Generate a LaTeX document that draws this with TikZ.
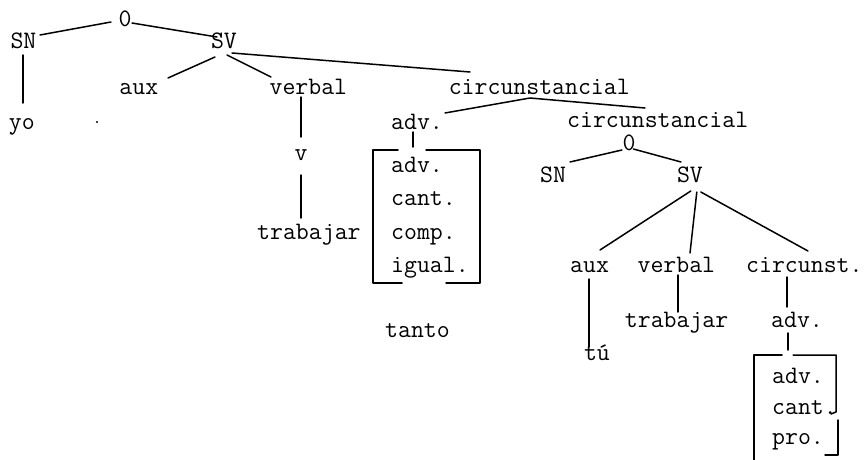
\documentclass[tikz,border=0pt]{standalone}
\usepackage{fontspec}
\usetikzlibrary{calc}
\begin{document}
\begin{tikzpicture}[x=1pt,y=-1pt,
  lbl/.style={anchor=west,inner sep=0pt,text height=14pt,text depth=0pt,
    font=\ttfamily\fontsize{25.1}{25}\selectfont\addfontfeatures{FakeBold=1.4}},
  edge/.style={line width=1.5pt,line cap=round,line join=round}]
\useasboundingbox (0,0) rectangle (865,460);

% first tree
\node[lbl] (O1) at (118.5,20) {0};
\node[lbl] (SN1) at (10.3,42) {SN};
\node[lbl] (SV1) at (210.8,42) {SV};
\node[lbl] (yo) at (8.8,122) {yo};
\node[lbl] (aux1) at (119.2,88) {aux};
\node[lbl] (verbal1) at (269.4,88) {verbal};
\node[lbl] (circ1) at (448.6,88) {circunstancial};
\node[lbl] (adv1) at (391,122) {adv.};
\node[lbl] (circ2) at (567,121) {circunstancial};
\node[lbl] (v) at (294.4,153) {v};
\node[lbl] (trab1) at (257,232) {trabajar};
\node[lbl] (b1a) at (391,165) {adv.};
\node[lbl] (b1b) at (391,198) {cant.};
\node[lbl] (b1c) at (391,232) {comp.};
\node[lbl] (b1d) at (391,265) {igual.};
\node[lbl] (tanto) at (385,330) {tanto};

% embedded clause
\node[lbl] (O2) at (622.4,143) {0};
\node[lbl] (SN2) at (540,175) {SN};
\node[lbl] (SV2) at (676.8,175) {SV};
\node[lbl] (aux2) at (570,265) {aux};
\node[lbl] (verbal2) at (637.4,265) {verbal};
\node[lbl] (circ3) at (746,265) {circunst.};
\node[lbl] (trab2) at (624.7,320) {trabajar};
\node[lbl] (adv2) at (771,320) {adv.};
\node[lbl] (tu) at (583.8,353) {tú};
\node[lbl] (b2a) at (772,376) {adv.};
\node[lbl] (b2b) at (772,407) {cant.};
\node[lbl] (b2c) at (772,437) {pro.};

\fill (97,122) circle (1.2);

% branches of the first tree
\draw[edge] ($(SN1.west)+(29.7,-7)$) -- ($(O1.west)+(-7.5,2)$);
\draw[edge] ($(O1.west)+(13.5,3)$) -- ($(SV1.west)+(6.2,-5)$);
\draw[edge] ($(SN1.west)+(12.7,13)$) -- ($(yo.west)+(14.2,-19)$);
\draw[edge] ($(SV1.west)+(4.2,15)$) -- ($(aux1.west)+(48.8,-10)$);
\draw[edge] ($(SV1.west)+(16.2,13)$) -- ($(verbal1.west)+(1.6,-11)$);
\draw[edge] ($(SV1.west)+(21.2,11)$) -- ($(circ1.west)+(21.4,-16)$);
\draw[edge] ($(verbal1.west)+(31.6,9)$) -- ($(v.west)+(6.6,-16)$);
\draw[edge] ($(v.west)+(6.6,22)$) -- ($(trab1.west)+(44,-14)$);
\draw[edge] ($(adv1.west)+(54,-9)$) -- ($(circ1.west)+(81.4,10)$)
  -- ($(circ2.west)+(78,-13)$);
\draw[edge] ($(adv1.west)+(22,10)$) -- ($(b1a.west)+(22,-18)$);

% bracket round the first feature list
\draw[edge] ($(b1a.west)+(7,-15)$) -- ($(b1a.west)+(-18,-15)$)
  -- ($(b1d.west)+(-18,18)$) -- ($(b1d.west)+(11,18)$);
\draw[edge] ($(b1a.west)+(35,-15)$) -- ($(b1a.west)+(89,-15)$)
  -- ($(b1d.west)+(89,18)$) -- ($(b1d.west)+(55,18)$);

% branches of the embedded clause
\draw[edge] ($(O2.west)+(-0.5,7)$) -- ($(SN2.west)+(30,-13)$);
\draw[edge] ($(O2.west)+(11,6)$) -- ($(SV2.west)+(4.2,-13)$);
\draw[edge] ($(SV2.west)+(14,16)$) -- ($(aux2.west)+(30,-15)$);
\draw[edge] ($(SV2.west)+(20,17)$) -- ($(verbal2.west)+(52.6,-12)$);
\draw[edge] ($(SV2.west)+(24,17)$) -- ($(circ3.west)+(62,-14)$);
\draw[edge] ($(aux2.west)+(19,14)$) -- ($(tu.west)+(5.2,-6)$);
\draw[edge] ($(verbal2.west)+(40.6,10)$) -- ($(trab2.west)+(53.3,-8)$);
\draw[edge] ($(circ3.west)+(41,12)$) -- ($(adv2.west)+(16,-13)$);
\draw[edge] ($(adv2.west)+(17,13)$) -- ($(b2a.west)+(16,-26)$);

% bracket round the second feature list
\draw[edge] ($(b2a.west)+(10,-21)$) -- ($(b2a.west)+(-18,-21)$)
  -- ($(b2c.west)+(-18,23)$);
\draw[edge] ($(b2a.west)+(21,-21)$) -- ($(b2a.west)+(64,-21)$)
  -- ($(b2b.west)+(64,5)$) -- ($(b2b.west)+(59,7)$);
\draw[edge] ($(b2b.west)+(66,13)$) -- ($(b2c.west)+(66,18)$)
  -- ($(b2c.west)+(53,18)$);
\end{tikzpicture}
\end{document}
